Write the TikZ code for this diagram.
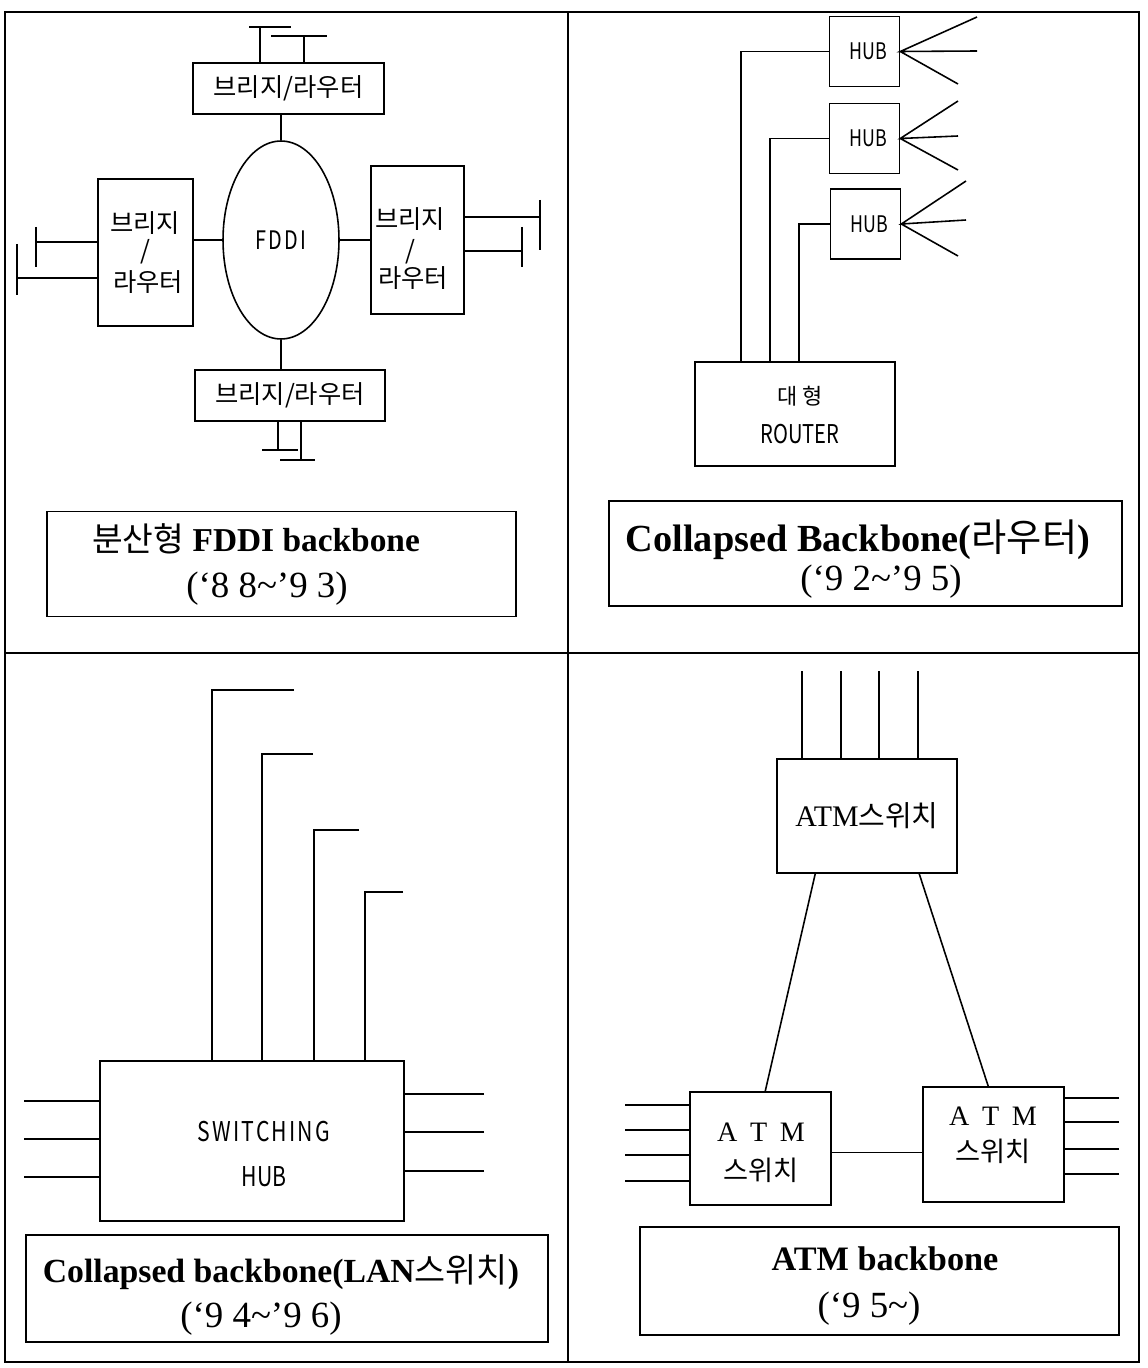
\documentclass[tikz,border=0pt]{standalone}
\usepackage{fontspec}
\setmainfont{Liberation Serif}
\newfontfamily\kr{Noto Sans CJK KR}
\newfontfamily\krn[FakeStretch=0.78]{Noto Sans CJK KR}
\newfontfamily\krw[FakeStretch=0.78,LetterSpace=8]{Noto Sans CJK KR}
\usetikzlibrary{shapes.geometric,calc}
\begin{document}
\begin{tikzpicture}[x=0.02cm,y=-0.02cm,line width=0.9pt]
\tikzset{
  box/.style={draw,rectangle,inner sep=0pt},
  txt/.style={inner sep=0pt,anchor=center},
  kl/.style={txt,font=\kr\fontsize{14.4}{16}\selectfont},
  hub/.style={box,minimum width=1.4cm,minimum height=1.4cm,font=\krn\fontsize{13}{15}\selectfont},
  captwo/.style={txt,font=\fontsize{21}{24}\selectfont},
}
\useasboundingbox (0,0) rectangle (1147,1368);
\fill[white] (0,0) rectangle (1147,1368);
% frame
\draw (5,12) rectangle (1139,1362);
\draw (568,12) -- (568,1362);
\draw (5,653) -- (1139,653);

% ---------- top left: FDDI ----------
\node[box,kl,minimum width=3.82cm,minimum height=1.02cm] (tb) at (288.5,88.5) {브리지/라우터};
\node[draw,ellipse,inner sep=0pt,minimum width=2.32cm,minimum height=3.96cm,font=\krw\fontsize{14.5}{17}\selectfont] (fd) at (281,240) {FDDI};
\node[box,minimum width=1.9cm,minimum height=2.94cm] (lb) at (145.5,252.5) {};
\node[kl] (lbt1) at (145,223) {브리지};
\node[kl] (lbt2) at (145,252) {/};
\node[kl] (lbt3) at (148,282) {라우터};
\node[box,minimum width=1.86cm,minimum height=2.96cm] (rb) at (417.5,240) {};
\node[kl] (rbt1) at (410,219) {브리지};
\node[kl] (rbt2) at (410,252) {/};
\node[kl] (rbt3) at (413,278) {라우터};
\node[box,kl,minimum width=3.8cm,minimum height=1.02cm] (bb) at (290,395.5) {브리지/라우터};

\draw (fd.north) -- (fd.north |- tb.south);
\draw (fd.south) -- (fd.south |- bb.north);
\draw (fd.west) -- (fd.west -| lb.east);
\draw (fd.east) -- (fd.east -| rb.west);

\coordinate (ta) at (260,27); \coordinate (tc) at (304,36);
\draw (249,27) -- (291,27) (ta) -- (ta |- tb.north);
\draw (271,36) -- (327,36) (tc) -- (tc |- tb.north);
\coordinate (la) at (36,242); \coordinate (lc) at (17,278);
\draw (36,227) -- (36,267) (la) -- (la -| lb.west);
\draw (17,244) -- (17,295) (lc) -- (lc -| lb.west);
\coordinate (ra) at (540,217); \coordinate (rc) at (522,251);
\draw (540,200) -- (540,250) (ra) -- (ra -| rb.east);
\draw (522,227) -- (522,267) (rc) -- (rc -| rb.east);
\coordinate (ba) at (278,450); \coordinate (bc) at (301,460);
\draw (262,450) -- (298,450) (ba) -- (ba |- bb.south);
\draw (280,460) -- (315,460) (bc) -- (bc |- bb.south);

\node[box,minimum width=9.38cm,minimum height=2.1cm] (c1) at (281.5,564) {};
\node[txt,font=\fontsize{19}{22}\selectfont] (c1a) at (256,539) {{\kr 분산형} \textbf{FDDI backbone}};
\node[captwo] (c1b) at (267,589) {(‘8\ 8\textasciitilde’9\ 3)};

% ---------- top right: collapsed backbone (router) ----------
\node[box,minimum width=4cm,minimum height=2.08cm] (rt) at (795,414) {};
\node[txt,font=\kr\fontsize{12.5}{15}\selectfont] (rtt1) at (800,396) {대\hspace{0.2em}형};
\node[txt,font=\krn\fontsize{14.7}{17}\selectfont] (rtt2) at (800,434) {ROUTER};
\node[hub] (h1) at (864.5,51.5) {\hspace{4pt}HUB};
\node[hub] (h2) at (864.5,138.5) {\hspace{4pt}HUB};
\node[hub] (h3) at (865.5,224) {\hspace{4pt}HUB};
\draw (h1.west) -| ($(rt.north west)+(47,0)$);
\draw (h2.west) -| ($(rt.north west)+(76,0)$);
\draw (h3.west) -| ($(rt.north west)+(105,0)$);
\draw (977,17) -- (h1.east) -- (977,51) (h1.east) -- (958,84);
\draw (958,101) -- (h2.east) -- (958,136) (h2.east) -- (958,170);
\draw (966,181) -- (h3.east) -- (966,220) (h3.east) -- (958,256);

\node[box,minimum width=10.26cm,minimum height=2.1cm] (c2) at (865.5,553.5) {};
\node[txt,font=\fontsize{21.8}{25}\selectfont] (c2a) at (858,540) {\textbf{Collapsed Backbone(}{\kr 라우터}\textbf{)}};
\node[captwo] (c2b) at (881,582) {(‘9\ 2\textasciitilde’9\ 5)};

% ---------- bottom left: switching hub ----------
\node[box,minimum width=6.08cm,minimum height=3.2cm] (sw) at (252,1141) {};
\node[txt,font=\krw\fontsize{15.5}{18}\selectfont] (swt1) at (264,1132) {SWITCHING};
\node[txt,font=\krn\fontsize{15.5}{18}\selectfont] (swt2) at (264,1177) {HUB};
\coordinate (s1) at (212,690); \coordinate (s2) at (262,754);
\coordinate (s3) at (314,830); \coordinate (s4) at (365,892);
\draw (294,690) -- (s1) -- (s1 |- sw.north);
\draw (313,754) -- (s2) -- (s2 |- sw.north);
\draw (359,830) -- (s3) -- (s3 |- sw.north);
\draw (403,892) -- (s4) -- (s4 |- sw.north);
\foreach \yy [count=\i] in {1101,1139,1177}{
  \coordinate (sl\i) at (24,\yy);
  \draw (sl\i) -- (sl\i -| sw.west);
}
\foreach \yy [count=\i] in {1094,1132,1171}{
  \coordinate (sr\i) at (484,\yy);
  \draw (sr\i) -- (sr\i -| sw.east);
}
\node[box,minimum width=10.44cm,minimum height=2.14cm] (c3) at (287,1288.5) {};
\node[txt,font=\fontsize{19.2}{22}\selectfont] (c3a) at (281,1272) {\textbf{Collapsed backbone(LAN}{\kr 스위치}\textbf{)}};
\node[captwo] (c3b) at (261,1319) {(‘9\ 4\textasciitilde’9\ 6)};

% ---------- bottom right: ATM backbone ----------
\node[box,minimum width=3.6cm,minimum height=2.28cm,font=\fontsize{17}{19}\selectfont] (atm0) at (867,816) {ATM{\kr\fontsize{16.5}{19}\selectfont 스위치}};
\node[box,minimum width=2.82cm,minimum height=2.26cm] (al) at (760.5,1148.5) {};
\node[txt,font=\fontsize{16}{19}\selectfont] (alt1) at (761,1132) {A\hspace{0.45em}T\hspace{0.45em}M};
\node[txt,font=\kr\fontsize{15.5}{18}\selectfont] (alt2) at (761,1170) {스위치};
\node[box,minimum width=2.82cm,minimum height=2.3cm] (ar) at (993.5,1144.5) {};
\node[txt,font=\fontsize{16}{19}\selectfont] (art1) at (993,1116) {A\hspace{0.45em}T\hspace{0.45em}M};
\node[txt,font=\kr\fontsize{15.5}{18}\selectfont] (art2) at (993,1151) {스위치};
\foreach \xx [count=\i] in {802,841,879,918}{
  \coordinate (u\i) at (\xx,671);
  \draw (u\i) -- (u\i |- atm0.north);
}
\draw ($(atm0.south west)+(39,0)$) -- ($(al.north west)+(76,0)$);
\draw ($(atm0.south west)+(143,0)$) -- ($(ar.north west)+(66,0)$);
\coordinate (lk) at ($(al.east)+(0,4)$);
\draw (lk) -- (lk -| ar.west);
\foreach \yy [count=\i] in {1105,1130,1155,1181}{
  \coordinate (al\i) at (625,\yy);
  \draw (al\i) -- (al\i -| al.west);
}
\foreach \yy [count=\i] in {1098,1122,1149,1174}{
  \coordinate (ar\i) at (1119,\yy);
  \draw (ar\i) -- (ar\i -| ar.east);
}
\node[box,minimum width=9.58cm,minimum height=2.16cm] (c4) at (879.5,1281) {};
\node[txt,font=\fontsize{19.5}{22}\selectfont] (c4a) at (885,1259) {\textbf{ATM backbone}};
\node[captwo] (c4b) at (869,1309) {(‘9\ 5\textasciitilde)};
\end{tikzpicture}
\end{document}
